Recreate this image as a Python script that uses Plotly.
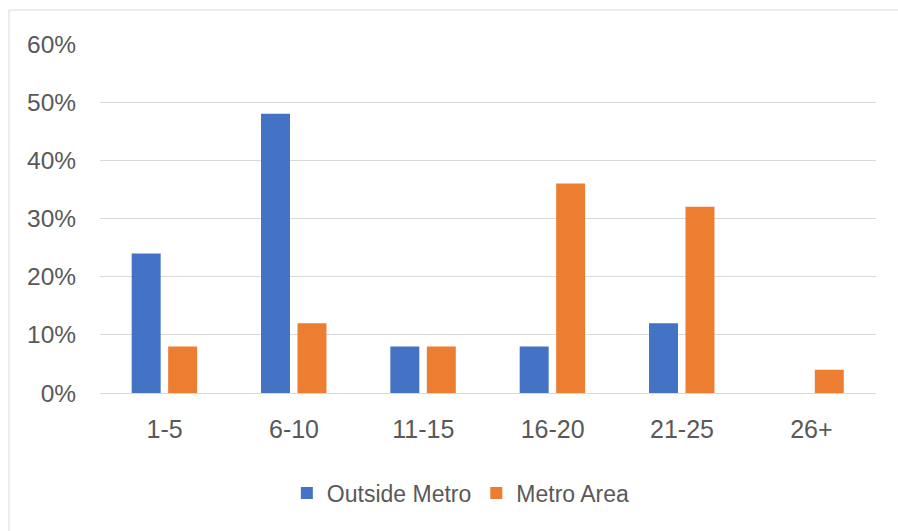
import plotly.graph_objects as go

categories = ["1-5", "6-10", "11-15", "16-20", "21-25", "26+"]
outside_metro = [0.24, 0.48, 0.08, 0.08, 0.12, 0.0]
metro_area = [0.08, 0.12, 0.08, 0.36, 0.32, 0.04]
y_ticks = [0, 0.1, 0.2, 0.3, 0.4, 0.5, 0.6]

BLUE = "#4472C4"
ORANGE = "#ED7D31"
GRID = "#d9d9d9"
TEXT = "#595959"
FONT = "Liberation Sans, Arial, sans-serif"

fig = go.Figure()
fig.add_trace(go.Bar(x=categories, y=outside_metro, name="Outside Metro",
                     marker=dict(color=BLUE, line=dict(width=0)),
                     width=0.224, offset=-0.255))
fig.add_trace(go.Bar(x=categories, y=metro_area, name="Metro Area",
                     marker=dict(color=ORANGE, line=dict(width=0)),
                     width=0.224, offset=0.027))

fig.update_layout(
    width=898, height=531,
    margin=dict(l=100, r=22, t=44, b=138),
    paper_bgcolor="white", plot_bgcolor="white",
    font=dict(family=FONT, color=TEXT),
    barmode="group",
    showlegend=True,
    legend=dict(orientation="h", x=0.465, xanchor="center", y=-0.2865, yanchor="middle",
                font=dict(size=23, color=TEXT), itemwidth=30, traceorder="normal"),
    xaxis=dict(showgrid=False, showline=True, linecolor=GRID, linewidth=1,
               ticks="outside", ticklen=14, tickcolor="rgba(0,0,0,0)",
               tickfont=dict(size=25, color=TEXT), fixedrange=True),
    yaxis=dict(range=[0, 0.6], tickvals=y_ticks, tickformat=".0%",
               showgrid=True, gridcolor=GRID, gridwidth=1, zeroline=False,
               showline=False, ticks="outside", ticklen=18, tickcolor="rgba(0,0,0,0)",
               tickfont=dict(size=24.5, color=TEXT), fixedrange=True),
    shapes=[
        dict(type="line", xref="paper", yref="paper", x0=-0.1173, x1=1.2, y0=1.0974, y1=1.0974,
             line=dict(color=GRID, width=1)),
        dict(type="line", xref="paper", yref="paper", x0=-0.1173, x1=-0.1173, y0=1.0974, y1=-0.6,
             line=dict(color=GRID, width=1)),
    ],
)

fig.write_html("out.html")
